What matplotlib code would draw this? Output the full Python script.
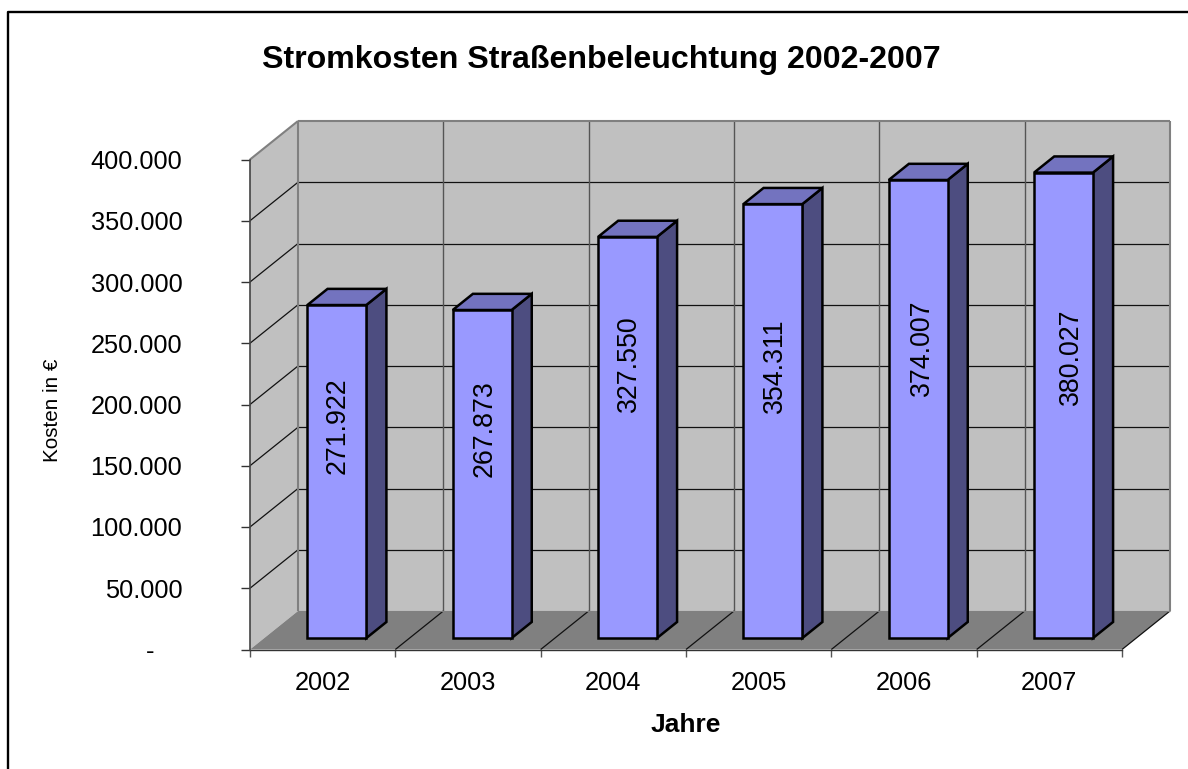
import matplotlib
matplotlib.use("Agg")
import matplotlib.pyplot as plt
from matplotlib.patches import Polygon

years = ["2002", "2003", "2004", "2005", "2006", "2007"]
costs = [271922, 267873, 327550, 354311, 374007, 380027]
cost_labels = ["271.922", "267.873", "327.550", "354.311", "374.007", "380.027"]
y_ticks = [0, 50000, 100000, 150000, 200000, 250000, 300000, 350000, 400000]
y_tick_labels = ["-    ", "50.000", "100.000", "150.000", "200.000", "250.000", "300.000", "350.000", "400.000"]

# label placement inside each bar: fraction of bar height, sideways shift in px
label_frac = [0.637, 0.640, 0.683, 0.627, 0.633, 0.604]
label_shift = [1, 2, 1.5, 2, 4, 7.5]

W, H = 1188, 769
plt.rcParams["font.family"] = ["Liberation Sans", "DejaVu Sans"]
fig = plt.figure(figsize=(W / 100, H / 100), dpi=100, facecolor="white")
ax = fig.add_axes([250 / W, 1 - 649.5 / H, 872 / W, 490 / H])
ax.set_xlim(0, 6)
ax.set_ylim(0, 400000)
ax.patch.set_visible(False)
for s in ax.spines.values():
    s.set_visible(False)

# oblique depth vector, in data units per unit of depth
DX = 48 / 872 * 6
DY = 38.5 / 490 * 400000


def P(x, y, d=0.0):
    return (x + d * DX, y + d * DY)


def face(pts, **kw):
    ax.add_patch(Polygon(pts, closed=True, clip_on=False, **kw))


def seg(a, b, **kw):
    ax.plot([a[0], b[0]], [a[1], b[1]], clip_on=False, solid_capstyle="butt", **kw)


top = y_ticks[-1]
WALL = "#C0C0C0"
EDGE = "#808080"
# walls and floor
face([P(0, 0, 1), P(6, 0, 1), P(6, top, 1), P(0, top, 1)], fc=WALL, ec="none", zorder=1)
face([P(0, 0, 0), P(0, 0, 1), P(0, top, 1), P(0, top, 0)], fc=WALL, ec="none", zorder=1)
face([P(0, 0, 0), P(6, 0, 0), P(6, 0, 1), P(0, 0, 1)], fc=EDGE, ec="none", zorder=1)

# grid
for v in y_ticks[1:-1]:
    seg(P(0, v, 0), P(0, v, 1), color="#111111", lw=0.9, zorder=2)
    seg(P(0, v, 1), P(6, v, 1), color="#111111", lw=0.9, zorder=2)
for i in range(1, 6):
    seg(P(i, 0, 1), P(i, top, 1), color="#555555", lw=1.0, zorder=2)
for i in range(1, 7):
    seg(P(i, 0, 0), P(i, 0, 1), color="#111111", lw=0.9, zorder=2)

# wall outline
seg(P(0, top, 0), P(0, top, 1), color=EDGE, lw=1.5, zorder=2)
seg(P(0, top, 1), P(6, top, 1), color=EDGE, lw=1.5, zorder=2)
seg(P(6, 0, 1), P(6, top, 1), color=EDGE, lw=1.5, zorder=2)
seg(P(0, 0, 1), P(0, top, 1), color=EDGE, lw=1.5, zorder=2)
seg(P(0, 0, 1), P(6, 0, 1), color=EDGE, lw=0.8, zorder=2)

# bars
D0, D1 = 0.295, 0.715
BW = 0.405
for i, (v, lab) in enumerate(zip(costs, cost_labels)):
    l, r = i + 0.5 - BW / 2, i + 0.5 + BW / 2
    kw = dict(ec="black", lw=1.8, joinstyle="miter", zorder=3)
    face([P(r, 0, D0), P(r, 0, D1), P(r, v, D1), P(r, v, D0)], fc="#4D4D80", **kw)
    face([P(l, v, D0), P(r, v, D0), P(r, v, D1), P(l, v, D1)], fc="#7373BF", **kw)
    face([P(l, 0, D0), P(r, 0, D0), P(r, v, D0), P(l, v, D0)], fc="#9999FF", **kw)
    ax.annotate(lab, xy=P(i + 0.5, v * label_frac[i], D0),
                xytext=(label_shift[i] * 0.72, 0), textcoords="offset points",
                rotation=90, ha="center", va="center", fontsize=19.3,
                color="black", zorder=4, annotation_clip=False)

# axes
ax.set_yticks(y_ticks, y_tick_labels, fontsize=18.3)
ax.set_xticks(range(7))
ax.set_xticks([i + 0.5 for i in range(6)], years, minor=True, fontsize=18.3)
ax.set_xticklabels([])
ax.tick_params(axis="y", length=6.5, width=1, color="#333333", pad=42.2)
ax.tick_params(axis="x", which="major", length=5, width=1, color="#555555")
ax.tick_params(axis="x", which="minor", length=0, pad=15.2, labelsize=18.3)
ax.spines["left"].set_visible(True)
ax.spines["bottom"].set_visible(True)
ax.spines["left"].set_color("#444444")
ax.spines["bottom"].set_color("#333333")
ax.spines["left"].set_linewidth(1.2)
ax.spines["bottom"].set_linewidth(1.0)
ax.spines["left"].set_zorder(5)
ax.spines["bottom"].set_zorder(2.5)

fig.text(601.5 / W, 1 - 60 / H, "Stromkosten Straßenbeleuchtung 2002-2007", ha="center", va="center",
         fontsize=23.1, fontweight="bold")
fig.text(686 / W, 1 - 725 / H, "Jahre", ha="center", va="center", fontsize=19, fontweight="bold")
fig.text(53 / W, 1 - 410 / H, "Kosten in €", rotation=90, ha="center", va="center", fontsize=14.9)

# chart-area border: top and left
fig.add_artist(plt.Line2D([8 / W, 8 / W, 1], [0, 1 - 12 / H, 1 - 12 / H], color="black", lw=1.7))

fig.savefig("out.png", dpi=100, facecolor="white")
